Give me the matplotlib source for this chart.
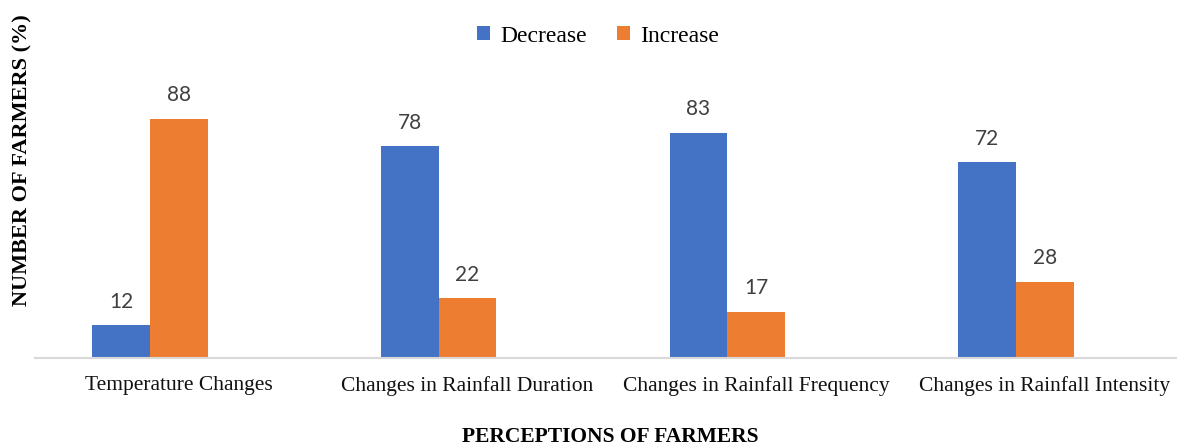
import numpy as np
import matplotlib.pyplot as plt

categories = ["Temperature Changes", "Changes in Rainfall Duration",
              "Changes in Rainfall Frequency", "Changes in Rainfall Intensity"]
decrease = [12, 78, 83, 72]
increase = [88, 22, 17, 28]

blue = "#4472C4"
orange = "#ED7D31"
serif = "Liberation Serif"

fig = plt.figure(figsize=(11.81, 4.48), dpi=100)
ax = fig.add_axes([35 / 1181, 90 / 448, 1141 / 1181, 271.6 / 448])

x = np.arange(len(categories))
w = 0.2
b1 = ax.bar(x - w / 2, decrease, w, color=blue, label="Decrease")
b2 = ax.bar(x + w / 2, increase, w, color=orange, label="Increase")

for bars in (b1, b2):
    for r in bars:
        ax.text(r.get_x() + r.get_width() / 2, r.get_height() + 5,
                str(int(r.get_height())), ha="center", va="bottom",
                fontsize=15, color="#404040", family="Lato")

ax.set_xlim(-0.398, 3.554)
ax.set_ylim(0, 100)
ax.set_yticks([])
# labels sit a little right of the group centres
ax.set_xticks(x + w / 2)
ax.set_xticklabels(categories, family=serif, fontsize=15.5, color="#111111")
ax.tick_params(axis="x", length=0, pad=13)
for s in ("top", "right", "left"):
    ax.spines[s].set_visible(False)
ax.spines["bottom"].set_color("#D9D9D9")
ax.spines["bottom"].set_linewidth(1.5)

fig.text(610 / 1181, 1 - 437 / 448, "PERCEPTIONS OF FARMERS", ha="center", va="center",
         family=serif, fontsize=15.5, fontweight="bold")
fig.text(22 / 1181, 1 - 160 / 448, "NUMBER OF FARMERS (%)", ha="center", va="center",
         rotation=90, family=serif, fontsize=16, fontweight="bold")

fig.legend(loc="center", bbox_to_anchor=(598 / 1181, 1 - 36 / 448), ncol=2, frameon=False,
           prop={"family": serif, "size": 17}, handlelength=0.55, handleheight=0.55,
           handletextpad=0.4, columnspacing=1.3)

fig.savefig("out.png", dpi=100)
